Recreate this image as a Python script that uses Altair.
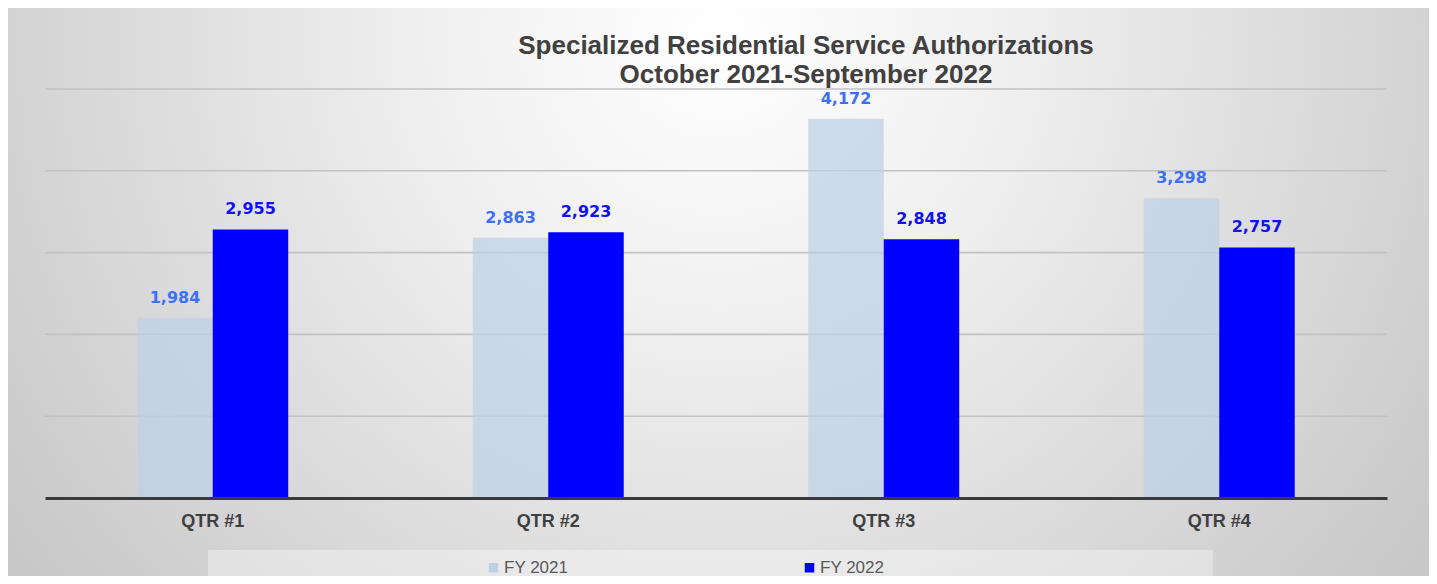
import altair as alt
import pandas as pd

quarters = ["QTR #1", "QTR #2", "QTR #3", "QTR #4"]
series = ["FY 2021", "FY 2022"]
fy2021 = [1984, 2863, 4172, 3298]
fy2022 = [2955, 2923, 2848, 2757]
grid_values = [900, 1800, 2700, 3600, 4500]

rows = []
for q, a, b in zip(quarters, fy2021, fy2022):
    rows.append({"quarter": q, "series": series[0], "value": a})
    rows.append({"quarter": q, "series": series[1], "value": b})
df = pd.DataFrame(rows)
grid_df = pd.DataFrame({"value": grid_values})

W, H = 1342, 409
PL, PT, PR, PB = 37, 81, 42, 78
EXT = 400  # vertical stretch of the background gradient box

y_scale = alt.Scale(domain=[0, 4500], nice=False)

bg = alt.Chart(pd.DataFrame({"k": [0]})).mark_rect(
    color=alt.RadialGradient(
        gradient="radial",
        stops=[
            alt.GradientStop(color="#ffffff", offset=0),
            alt.GradientStop(color="#eeeeee", offset=0.3),
            alt.GradientStop(color="#c9c9c9", offset=0.8),
            alt.GradientStop(color="#c2c2c2", offset=1),
        ],
        x1=0.5, y1=0.32, r1=0,
        x2=0.5, y2=0.32, r2=0.75,
    )
).encode(
    x=alt.value(-PL), x2=alt.value(W + PR),
    y=alt.value(-PT - EXT), y2=alt.value(H + PB + EXT),
)

legend_box = alt.Chart(pd.DataFrame({"k": [0]})).mark_rect(
    color="#ffffff", opacity=0.35
).encode(
    x=alt.value(163), x2=alt.value(1168),
    y=alt.value(461), y2=alt.value(H + PB),
)

grid = alt.Chart(grid_df).mark_rule(color="#c2c2c2", strokeWidth=1.6).encode(
    y=alt.Y("value:Q", scale=y_scale),
    x=alt.value(0), x2=alt.value(W),
)

base = alt.Chart(df).encode(
    x=alt.X(
        "quarter:N", sort=quarters,
        scale=alt.Scale(paddingInner=0.55, paddingOuter=0.275),
        axis=alt.Axis(
            title=None, labelAngle=0, labelFont="Liberation Sans",
            labelFontWeight="bold", labelFontSize=18, labelColor="#404040",
            labelPadding=14, ticks=False, grid=False,
            domainColor="#3a3a3a", domainWidth=3, zindex=1,
        ),
    ),
    xOffset=alt.XOffset("series:N", sort=series,
                        scale=alt.Scale(paddingInner=0, paddingOuter=0)),
    y=alt.Y(
        "value:Q", scale=y_scale,
        axis=alt.Axis(
            title=None, labels=False, ticks=False, domain=False, grid=False,
        ),
    ),
)

bars = base.mark_bar().encode(
    color=alt.Color(
        "series:N", sort=series,
        scale=alt.Scale(domain=series, range=["#bdd0e4", "#0000ff"]),
        legend=alt.Legend(
            title=None, orient="none", legendX=440, legendY=470,
            direction="horizontal", columns=2, columnPadding=232,
            symbolType="square", symbolSize=90, symbolStrokeWidth=0,
            labelFont="Liberation Sans", labelFontSize=17,
            labelColor="#595959", labelOffset=2,
        ),
    ),
    opacity=alt.condition(alt.datum.series == "FY 2021",
                          alt.value(0.72), alt.value(1.0)),
)

labels = base.mark_text(
    baseline="alphabetic", dy=-15, font="DejaVu Sans",
    fontWeight="bold", fontSize=16,
).encode(
    text=alt.Text("value:Q", format=","),
    color=alt.condition(alt.datum.series == "FY 2021",
                        alt.value("#3f6ff5"), alt.value("#1212ee")),
)

chart = alt.layer(bg, legend_box, grid, bars, labels).properties(
    width=W, height=H,
    autosize=alt.AutoSizeParams(type="none"),
    padding={"left": PL, "top": PT, "right": PR, "bottom": PB},
    title=alt.TitleParams(
        text=["Specialized Residential Service Authorizations",
              "October 2021-September 2022"],
        anchor="middle", frame="group", dx=90, offset=-(PT + EXT - 1),
        zindex=1,
        font="Liberation Sans", fontSize=26, fontWeight="bold",
        color="#404040", lineHeight=29,
    ),
).configure_view(stroke=None)

chart.save("out.html", embed_options={"renderer": "svg", "actions": False})
